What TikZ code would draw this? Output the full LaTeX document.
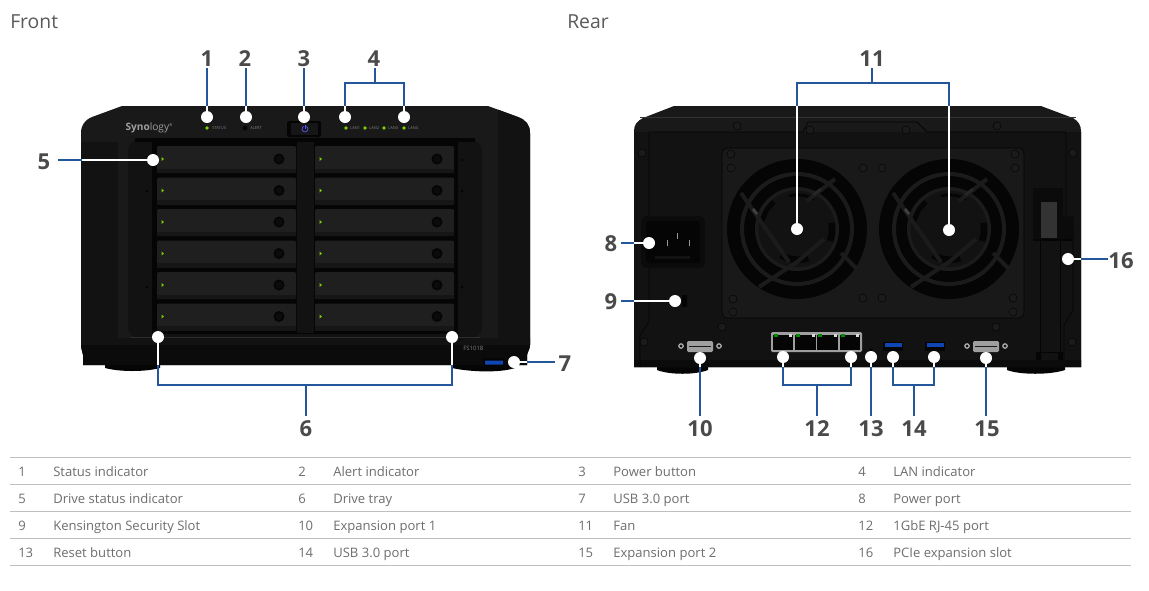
\documentclass[tikz,border=0pt]{standalone}
\usepackage{fontspec}
\setmainfont{Open Sans}
\definecolor{lblue}{HTML}{23569B}
\definecolor{txt}{HTML}{6E6E6E}
\definecolor{hd}{HTML}{5A5A5A}
\definecolor{lbl}{HTML}{4A4A4A}
\definecolor{body}{HTML}{191919}
\definecolor{bodyd}{HTML}{121212}
\definecolor{bodyk}{HTML}{0B0B0B}
\definecolor{tray}{HTML}{1F1F1F}
\definecolor{trayd}{HTML}{161616}
\definecolor{blk}{HTML}{050505}
\definecolor{led}{HTML}{7FD000}
\definecolor{ring}{HTML}{1B1B1B}
\definecolor{usb}{HTML}{0F46B4}
\tikzset{
 num/.style={font=\bfseries\fontsize{16.5}{18}\selectfont,text=lbl,inner sep=0pt,yshift=-.75pt},
 head/.style={font=\fontsize{14.5}{17}\selectfont,text=hd,anchor=base west,inner sep=0pt},
 cell/.style={font=\fontsize{9.8}{12}\selectfont,text=txt,anchor=base west,inner sep=0pt},
 dotw/.style={circle,fill=white,minimum size=9pt,inner sep=0pt},
 bl/.style={draw=lblue,line width=1.5pt},
 wl/.style={draw=white,line width=1.3pt},
 tiny/.style={font=\fontsize{3}{3}\selectfont,text=gray,inner sep=0pt},
 screw/.style={circle,draw=blk,fill=ring,line width=.4pt,minimum size=6pt,inner sep=0pt},
}
\newcommand{\tray}[2]{%
 \fill[tray,rounded corners=1pt] (#1,#2) rectangle ++(139,27);
 \fill[trayd] (#1,#2+22.5) rectangle ++(139,4.5);
 \fill[blk] (#1+122,#2+13) circle (5.5);
 \fill[bodyk] (#1+122,#2+13) circle (3.5);
 \fill[led] (#1+4.5,#2+11) -- ++(2.5,2) -- ++(-2.5,2) -- cycle;
}
\newcommand{\fan}[2]{%
 \begin{scope}[shift={(#1,#2)}]
 \fill[blk] (0,0) circle (70);
 \draw[ring,line width=3pt] (0,0) circle (55);
 \draw[ring,line width=3pt] (0,0) circle (40);
 \fill[bodyd] (0,0) circle (38.5);
 \draw[blk,line width=3.5pt] (-23,-27) arc[start angle=230,end angle=190,radius=35];
 \draw[blk,line width=5pt] (-16,26) arc[start angle=122,end angle=70,radius=31];
 \draw[blk,line width=5pt] (33,12) arc[start angle=20,end angle=-10,radius=35];
 \draw[blk,line width=2pt] (-8,-33) arc[start angle=255,end angle=300,radius=33];
 \draw[ring,line width=3pt] (-56,-36) -- (-8,33);
 \draw[ring,line width=3pt] (-38,58) -- (0,33) -- (27,10);
 \draw[ring,line width=3pt] (38,-50) -- (10,-28);
 \draw[ring,line width=3pt] (44,24) -- (61,41);
 \draw[gray!50!black,line width=2.2pt] (-44,-20) -- (-40,-15);
 \draw[gray!30!black,line width=2.2pt] (24,-40) -- (16,-34);
 \end{scope}}
\newcommand{\expo}[1]{%
 \fill[gray!75,rounded corners=1pt] (#1-13,341) rectangle (#1+13,352);
 \draw[gray!20!black,line width=.7pt] (#1-11,346.5) -- (#1+11,346.5);
 \draw[gray!60,line width=.9pt] (#1-19,346) circle (2.2) (#1+19,346) circle (2.2);}
\begin{document}
\begin{tikzpicture}[x=0.75pt,y=-0.75pt]
\useasboundingbox (0,0) rectangle (1149,590);
\fill[white] (0,0) rectangle (1149,590);

% ---------- FRONT ----------
\fill[blk] (105,360) -- (105,368) .. controls (120,372) and (145,372) .. (160,368) -- (160,360) -- cycle;
\fill[blk] (452,360) -- (452,368) .. controls (470,372) and (500,373) .. (515,368) -- (515,360) -- cycle;
\begin{scope}
\path[clip] (122,106) -- (488,106) -- (518,117) .. controls (526,120) and (530,125) .. (530,133) -- (530,345) .. controls (530,350) and (527,352) .. (527,355) -- (527,365) -- (83,365) -- (83,355) .. controls (83,352) and (81,350) .. (81,345) -- (81,133) .. controls (81,125) and (85,120) .. (92,117) -- cycle;
\fill[body] (70,100) rectangle (540,370);
\fill[bodyd] (498,100) rectangle (540,345);
\fill[bodyd] (70,142) rectangle (118,345);
\fill[bodyk] (70,345) rectangle (540,370);
\fill[bodyd] (70,338) rectangle (540,345);
\end{scope}
\fill[bodyd,rounded corners=8pt] (128,140) rectangle (482,338);
\fill[blk] (135,138) rectangle (475,142);
\fill[blk] (152,140) rectangle (458,334);
\fill[gray!35!black] (130,336.5) rectangle (480,338);
\fill[bodyd] (297,142) rectangle (314,333);
\foreach \y in {146,177.5,209,240.5,272,303.5}{\tray{157}{\y}\tray{315}{\y}}
\node[font=\fontsize{7.6}{9}\selectfont,text=gray!75,inner sep=0pt] (syn) at (149,128) {{\bfseries Syno}logy\raisebox{3pt}{\fontsize{3}{3}\selectfont ®}};
\fill[led] (207,128) circle (1.8);
\fill[blk] (245,128) circle (2.4);
\fill[blk,rounded corners=1pt] (287,121) rectangle (321,137);
\fill[trayd] (291,122.5) rectangle (318,134.5);
\draw[blue!65!white,line width=.55pt] (306.5,126.4) arc[start angle=-60,end angle=240,radius=3];
\draw[blue!65!white,line width=.55pt] (305,125) -- (305,128.6);
\node[tiny,anchor=west] at (212,128) {STATUS};
\node[tiny,anchor=west] at (250,128) {ALERT};
\foreach \x/\t in {346/LAN1,365/LAN2,384/LAN3,404/LAN4}{
  \fill[led] (\x,128) circle (1.8);
  \node[tiny,anchor=west] at (\x+4,128) {\t};}
\node[tiny,anchor=west,font=\fontsize{4.5}{5}\selectfont] at (463,348) {FS1018};
\fill[blk] (483,358) rectangle (505,367);
\fill[usb,rounded corners=.5pt] (485,360.5) rectangle (503,364.5);
\foreach \p in {(147,191),(147,287),(462,191),(462,287),(462,160)}{\fill[blk] \p circle (1.5);}

% callouts front
\node[num] (n1) at (207,58) {1};
\node[num] (n2) at (245,58) {2};
\node[num] (n3) at (304,58) {3};
\node[num] (n4) at (374,58) {4};
\node[num] (n5) at (44,161) {5};
\node[num] (n6) at (306,428) {6};
\node[num] (n7) at (565,363) {7};
\node[dotw] (d1) at (207,117) {};
\node[dotw] (d2) at (246,117) {};
\node[dotw] (d3) at (304,117) {};
\node[dotw] (d4a) at (345,117) {};
\node[dotw] (d4b) at (404,117) {};
\node[dotw] (d5) at (153,160) {};
\node[dotw] (d6a) at (158,337) {};
\node[dotw] (d6b) at (452,337) {};
\node[dotw] (d7) at (514,362) {};
\draw[wl] (d1) -- (207,106);\draw[bl] (207,106) -- (207,68);
\draw[wl] (d2) -- (246,106);\draw[bl] (246,106) -- (246,68);
\draw[wl] (d3) -- (304,106);\draw[bl] (304,106) -- (304,68);
\draw[wl] (d4a) -- (345,106);\draw[wl] (d4b) -- (404,106);
\draw[bl] (345,106) -- (345,83) -- (404,83) -- (404,106);
\draw[bl] (374.5,83) -- (374.5,68);
\draw[wl] (d5) -- (82,160);\draw[bl] (82,160) -- (58,160);
\draw[wl] (d6a) -- (158,365);\draw[wl] (d6b) -- (452,365);
\draw[bl] (158,365) -- (158,385) -- (452,385) -- (452,365);
\draw[bl] (306,385) -- (306,416);
\draw[wl] (d7) -- (527,362);\draw[bl] (527,362) -- (555,362);

% ---------- REAR ----------
\fill[blk] (657,362) -- (657,370) .. controls (670,375) and (695,375) .. (708,370) -- (708,362) -- cycle;
\fill[blk] (1007,362) -- (1007,370) .. controls (1020,375) and (1050,375) .. (1065,370) -- (1065,362) -- cycle;
\begin{scope}
\path[clip] (674,106) -- (1041,106) -- (1073,118) .. controls (1078,121) and (1081,125) .. (1081,131) -- (1081,367) -- (634,367) -- (634,131) .. controls (634,125) and (637,121) .. (643,118) -- cycle;
\fill[body] (630,100) rectangle (1090,370);
\fill[bodyd] (630,132) rectangle (1090,370);
\fill[bodyk] (630,360) rectangle (1090,370);
\end{scope}
\draw[gray!40!black,line width=.7pt] (640,117) -- (1076,117);
\draw[blk,line width=.6pt] (649,132) -- (803,132) -- (808,122) -- (917,122) -- (927,132) -- (1066,132);
\draw[blk,line width=.5pt] (649,132) -- (649,322) -- (640,335) -- (640,367);
\draw[blk,line width=.5pt] (1066,132) -- (1066,217) -- (1073,217) -- (1073,310) -- (1064,325) -- (1064,360);
\fill[body,rounded corners=4pt] (722,148) rectangle (1024,318);
\draw[blk,line width=.5pt,rounded corners=4pt] (722,148) rectangle (1024,318);
\fan{797}{229}
\fan{949}{229}
% power socket
\fill[bodyk,rounded corners=4pt] (641,216) rectangle (705,268);
\fill[blk,rounded corners=2pt] (646,221) rectangle (700,263);
\foreach \x/\y in {667/240,677/233,689/240}{\fill[gray!80] (\x,\y) rectangle ++(1.3,6);}
\fill[bodyd] (655,256) rectangle (690,259);
% kensington
\fill[blk,rounded corners=.5pt] (682,295) rectangle (687,307);
% PCIe bracket
\fill[bodyd] (1040,240) rectangle (1060,352);
\draw[blk,line width=.5pt] (1040,240) rectangle (1060,352);
\fill[bodyk] (1033,188) -- (1063,188) -- (1063,217) -- (1073,217) -- (1073,240) -- (1033,240) -- cycle;
\fill[gray!40!black] (1041,202) rectangle (1057,238);
\draw[blk,line width=1.5pt] (1033,240) -- (1073,240);
\fill[blk] (1036,352) rectangle (1041,360) (1058,352) rectangle (1063,360);
% ports
\expo{700}\expo{986}
\fill[gray!75,rounded corners=1pt] (771,332) rectangle (862,352);
\foreach \x/\w in {773/20,795/21,817/21,840/20}{\fill[blk] (\x,334.5) rectangle ++(\w,15);
  \fill[green!55!black] (\x+1,334) rectangle ++(3.5,2.5);\fill[gray!30] (\x+\w-4.5,334) rectangle ++(3.5,2.5);}
\fill[blk] (883,342) rectangle (903,351);
\fill[blk] (925,342) rectangle (945,351);
\fill[usb] (884.5,343) rectangle (901.5,347);
\fill[usb] (926.5,343) rectangle (943.5,347);
\fill[blk] (871,350) circle (1.6);
\foreach \p in {(737,126),(810,130),(906,130),(997,126),(642,153),(1073,153),(731,154),(731,168),(1015,154),(1015,168),(863,168),(882,168),(733,299),(733,312),(1013,298),(1013,312),(863,298),(882,298),(722,327),(996,327),(644,342),(1072,342)}{
 \node[screw] at \p {};}

% callouts rear
\node[num] (n11) at (872,58) {11};
\node[num] (n8) at (611,243) {8};
\node[num] (n9) at (611,301) {9};
\node[num] (n16) at (1121,260) {16};
\node[num] (n10) at (700,428) {10};
\node[num] (n12) at (817,428) {12};
\node[num] (n13) at (871,428) {13};
\node[num] (n14) at (914,428) {14};
\node[num] (n15) at (987,428) {15};
\node[dotw] (d11a) at (797,229) {};
\node[dotw] (d11b) at (949,230) {};
\node[dotw] (d8) at (649,243) {};
\node[dotw] (d9) at (675,301) {};
\node[dotw] (d16) at (1068,259) {};
\node[dotw] (d10) at (700,358) {};
\node[dotw] (d12a) at (783,357) {};
\node[dotw] (d12b) at (851,357) {};
\node[dotw] (d13) at (871,357) {};
\node[dotw] (d14a) at (893,357) {};
\node[dotw] (d14b) at (934,357) {};
\node[dotw] (d15) at (986,358) {};
\draw[wl] (d11a) -- (797,106);\draw[wl] (d11b) -- (949,106);
\draw[bl] (797,106) -- (797,83) -- (949,83) -- (949,106);
\draw[bl] (872,83) -- (872,68);
\draw[wl] (d8) -- (634,243);\draw[bl] (634,243) -- (621,243);
\draw[wl] (d9) -- (634,301);\draw[bl] (634,301) -- (621,301);
\draw[wl] (d16) -- (1081,259);\draw[bl] (1081,259) -- (1108,259);
\draw[wl] (d10) -- (700,367);\draw[bl] (700,367) -- (700,416);
\draw[wl] (d12a) -- (783,367);\draw[wl] (d12b) -- (851,367);
\draw[bl] (783,367) -- (783,385) -- (851,385) -- (851,367);
\draw[bl] (817,385) -- (817,416);
\draw[wl] (d13) -- (871,367);\draw[bl] (871,367) -- (871,416);
\draw[wl] (d14a) -- (893,367);\draw[wl] (d14b) -- (934,367);
\draw[bl] (893,367) -- (893,385) -- (934,385) -- (934,367);
\draw[bl] (914,385) -- (914,416);
\draw[wl] (d15) -- (986,367);\draw[bl] (986,367) -- (986,416);

% ---------- HEADINGS ----------
\node[head] (hf) at (10,28) {Front};
\node[head] (hr) at (567,28) {Rear};

% ---------- TABLE ----------
\foreach \y in {457,484,511,538,565}{\draw[gray!50,line width=.7pt] (10,\y) -- (1131,\y);}
\foreach \r/\y/\a/\b/\c/\d/\e/\f/\g/\h in {
 1/476/1/Status indicator/2/Alert indicator/3/Power button/4/LAN indicator,
 2/503/5/Drive status indicator/6/Drive tray/7/USB 3.0 port/8/Power port,
 3/530/9/Kensington Security Slot/10/Expansion port 1/11/Fan/12/1GbE RJ-45 port,
 4/557/13/Reset button/14/USB 3.0 port/15/Expansion port 2/16/PCIe expansion slot}{
 \node[cell] at (18,\y) {\a}; \node[cell] at (53,\y) {\b};
 \node[cell] at (298,\y) {\c}; \node[cell] at (333,\y) {\d};
 \node[cell] at (578,\y) {\e}; \node[cell] at (613,\y) {\f};
 \node[cell] at (858,\y) {\g}; \node[cell] at (893,\y) {\h};
}
\end{tikzpicture}
\end{document}
